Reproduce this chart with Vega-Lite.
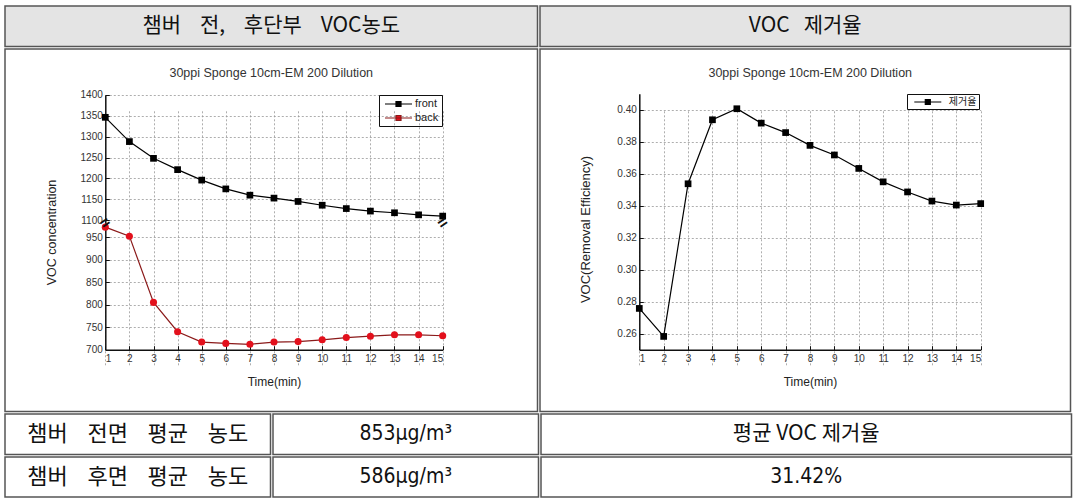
{
  "$schema": "https://vega.github.io/schema/vega-lite/v6.json",
  "padding": {"left": 4, "top": 5, "right": 0, "bottom": 0},
  "background": "white",
  "datasets": {
    "voc": [
      {"t": 1, "series": "front", "voc": 1346}, {"t": 2, "series": "front", "voc": 1288}, {"t": 3, "series": "front", "voc": 1248},
      {"t": 4, "series": "front", "voc": 1221}, {"t": 5, "series": "front", "voc": 1196}, {"t": 6, "series": "front", "voc": 1175},
      {"t": 7, "series": "front", "voc": 1160}, {"t": 8, "series": "front", "voc": 1153}, {"t": 9, "series": "front", "voc": 1145},
      {"t": 10, "series": "front", "voc": 1136}, {"t": 11, "series": "front", "voc": 1128}, {"t": 12, "series": "front", "voc": 1122},
      {"t": 13, "series": "front", "voc": 1118}, {"t": 14, "series": "front", "voc": 1113}, {"t": 15, "series": "front", "voc": 1110},
      {"t": 1, "series": "back", "voc": 972}, {"t": 2, "series": "back", "voc": 952}, {"t": 3, "series": "back", "voc": 805},
      {"t": 4, "series": "back", "voc": 740}, {"t": 5, "series": "back", "voc": 717}, {"t": 6, "series": "back", "voc": 714},
      {"t": 7, "series": "back", "voc": 712}, {"t": 8, "series": "back", "voc": 717}, {"t": 9, "series": "back", "voc": 718},
      {"t": 10, "series": "back", "voc": 722}, {"t": 11, "series": "back", "voc": 727}, {"t": 12, "series": "back", "voc": 730},
      {"t": 13, "series": "back", "voc": 733}, {"t": 14, "series": "back", "voc": 733}, {"t": 15, "series": "back", "voc": 731}
    ],
    "eff": [
      {"t": 1, "series": "제거율", "eff": 0.2758}, {"t": 2, "series": "제거율", "eff": 0.2583}, {"t": 3, "series": "제거율", "eff": 0.3537},
      {"t": 4, "series": "제거율", "eff": 0.3937}, {"t": 5, "series": "제거율", "eff": 0.4006}, {"t": 6, "series": "제거율", "eff": 0.3916},
      {"t": 7, "series": "제거율", "eff": 0.3857}, {"t": 8, "series": "제거율", "eff": 0.3777}, {"t": 9, "series": "제거율", "eff": 0.3717},
      {"t": 10, "series": "제거율", "eff": 0.3633}, {"t": 11, "series": "제거율", "eff": 0.3549}, {"t": 12, "series": "제거율", "eff": 0.3486},
      {"t": 13, "series": "제거율", "eff": 0.3429}, {"t": 14, "series": "제거율", "eff": 0.3404}, {"t": 15, "series": "제거율", "eff": 0.3413}
    ]
  },
  "config": {
    "view": {"stroke": "#555", "strokeWidth": 1.5},
    "concat": {"spacing": 0},
    "axis": {
      "labelFont": "Liberation Sans", "labelFontSize": 10, "labelColor": "#333",
      "titleFont": "Liberation Sans", "titleFontSize": 12, "titleFontWeight": "normal", "titleColor": "#222",
      "domainColor": "#111", "domainWidth": 1.5, "tickColor": "#111", "tickSize": -4, "tickWidth": 1,
      "gridColor": "#999", "gridDash": [2, 2], "gridWidth": 0.8
    },
    "title": {"font": "Liberation Sans", "fontSize": 12.5, "fontWeight": "normal", "color": "#333"}
  },
  "vconcat": [
    {
      "hconcat": [
        {
          "width": 532.5, "height": 40.5,
          "view": {"fill": "#e4e4e4", "stroke": "#555", "strokeWidth": 1.5},
          "data": {"values": [{"label": "챔버\u00a0\u00a0\u00a0\u00a0전,\u00a0\u00a0\u00a0\u00a0후단부\u00a0\u00a0\u00a0\u00a0VOC농도"}]},
          "mark": {"type": "text", "font": "Noto Sans CJK KR", "fontSize": 21, "color": "#111"},
          "encoding": {"text": {"field": "label"}}
        },
        {
          "width": 530.5, "height": 40.5,
          "view": {"fill": "#e4e4e4", "stroke": "#555", "strokeWidth": 1.5},
          "data": {"values": [{"label": "VOC\u00a0\u00a0\u00a0제거율"}]},
          "mark": {"type": "text", "font": "Noto Sans CJK KR", "fontSize": 21, "color": "#111"},
          "encoding": {"text": {"field": "label"}}
        }
      ]
    },
    {
      "resolve": {
        "scale": {"color": "independent", "shape": "independent", "fill": "independent", "stroke": "independent"},
        "legend": {"color": "independent", "shape": "independent", "fill": "independent", "stroke": "independent"}
      },
      "hconcat": [
        {
          "width": 532.5, "height": 362.5,
          "view": {"stroke": "#555", "strokeWidth": 1.5},
          "title": {"text": "30ppi Sponge 10cm-EM 200 Dilution", "offset": -30, "anchor": "middle", "frame": "group"},
          "data": {"name": "voc"},
          "encoding": {
            "x": {
              "field": "t", "type": "quantitative",
              "scale": {"domain": [1, 15], "range": [100.3, 437.7], "nice": false, "zero": false},
              "axis": {"orient": "bottom", "offset": -61.8, "values": [1,2,3,4,5,6,7,8,9,10,11,12,13,14,15], "format": "d", "title": "Time(min)", "labelPadding": 8, "titleY": 32, "titleBaseline": "middle", "grid": true}
            },
            "y": {
              "field": "voc", "type": "quantitative",
              "scale": {"domain": [700, 975, 1100, 1400], "range": [300.7, 176.8, 171.3, 45.7], "nice": false, "zero": false},
              "axis": {"orient": "left", "offset": -100.3, "values": [700,750,800,850,900,950,1100,1150,1200,1250,1300,1350,1400], "format": "d", "title": "VOC concentration", "titleFontSize": 12.5, "labelPadding": 7, "titleX": -54, "titleY": 183, "titleAngle": -90, "titleAlign": "center", "titleBaseline": "middle", "grid": true}
            }
          },
          "layer": [
            {
              "data": {"values": [{}]},
              "mark": {"type": "rect", "fillOpacity": 0, "stroke": "#222", "strokeWidth": 1},
              "encoding": {"x": {"datum": 1, "type": "quantitative"}, "x2": {"datum": 15}, "y": {"datum": 700, "type": "quantitative"}, "y2": {"datum": 1400}}
            },
            {
              "mark": {"type": "line", "strokeWidth": 1.2},
              "encoding": {
                "stroke": {
                  "field": "series", "type": "nominal",
                  "scale": {"domain": ["front", "back"], "range": ["#000000", "#8b1a1a"]},
                  "legend": {
                    "orient": "none", "legendX": 374, "legendY": 46, "title": null,
                    "strokeColor": "#111", "padding": 3, "rowPadding": 3,
                    "labelFont": "Liberation Sans", "labelFontSize": 11, "labelColor": "#222",
                    "symbolType": "M-2.7,0H2.7M-0.5,-0.5H0.5V0.5H-0.5Z", "symbolSize": 100, "symbolStrokeWidth": 1.2,
                    "symbolOffset": 10.5, "labelOffset": 10.5
                  }
                }
              }
            },
            {
              "transform": [{"filter": "datum.series === 'front'"}],
              "mark": {"type": "point", "filled": true, "opacity": 1, "size": 45, "shape": "square"},
              "encoding": {
                "fill": {
                  "field": "series", "type": "nominal",
                  "scale": {"domain": ["front", "back"], "range": ["#000000", "#e3101c"]},
                  "legend": {
                    "orient": "none", "legendX": 374, "legendY": 46, "title": null,
                    "strokeColor": "#111", "padding": 3, "rowPadding": 3,
                    "labelFont": "Liberation Sans", "labelFontSize": 11, "labelColor": "#222",
                    "symbolType": "M-2.7,0H2.7M-0.5,-0.5H0.5V0.5H-0.5Z", "symbolSize": 100, "symbolStrokeWidth": 1.2,
                    "symbolOffset": 10.5, "labelOffset": 10.5
                  }
                }
              }
            },
            {
              "transform": [{"filter": "datum.series === 'back'"}],
              "mark": {"type": "point", "filled": true, "opacity": 1, "size": 50, "shape": "circle"},
              "encoding": {
                "fill": {"field": "series", "type": "nominal"}
              }
            },
            {
              "transform": [{"filter": "datum.t === 1 && datum.series === 'front'"}],
              "mark": {"type": "text", "text": "=", "fontSize": 16, "fontWeight": "bold", "angle": 325, "color": "#111"},
              "encoding": {"x": {"datum": 1, "type": "quantitative"}, "y": {"datum": 1040, "type": "quantitative"}}
            },
            {
              "transform": [{"filter": "datum.t === 1 && datum.series === 'front'"}],
              "mark": {"type": "text", "text": "=", "fontSize": 16, "fontWeight": "bold", "angle": 325, "color": "#111"},
              "encoding": {"x": {"datum": 15, "type": "quantitative"}, "y": {"datum": 1040, "type": "quantitative"}}
            }
          ]
        },
        {
          "width": 530.5, "height": 362.5,
          "view": {"stroke": "#555", "strokeWidth": 1.5},
          "title": {"text": "30ppi Sponge 10cm-EM 200 Dilution", "offset": -30, "anchor": "middle", "frame": "group", "dx": 5},
          "data": {"name": "eff"},
          "encoding": {
            "x": {
              "field": "t", "type": "quantitative",
              "scale": {"domain": [1, 15], "range": [99.3, 440.7], "nice": false, "zero": false},
              "axis": {"orient": "bottom", "offset": -61.8, "values": [1,2,3,4,5,6,7,8,9,10,11,12,13,14,15], "format": "d", "title": "Time(min)", "labelPadding": 8, "titleY": 32, "titleBaseline": "middle", "grid": true}
            },
            "y": {
              "field": "eff", "type": "quantitative",
              "scale": {"domain": [0.25, 0.41], "range": [300.7, 44.7], "nice": false, "zero": false},
              "axis": {"orient": "left", "offset": -99.3, "values": [0.26,0.28,0.30,0.32,0.34,0.36,0.38,0.40], "format": ".2f", "title": "VOC(Removal Efficiency)", "titleFontSize": 13, "labelPadding": 7, "titleX": -54, "titleY": 180, "titleAngle": -90, "titleAlign": "center", "titleBaseline": "middle", "grid": true}
            }
          },
          "layer": [
            {
              "data": {"values": [{}]},
              "mark": {"type": "rect", "fillOpacity": 0, "stroke": "#222", "strokeWidth": 1},
              "encoding": {"x": {"datum": 1, "type": "quantitative"}, "x2": {"datum": 15}, "y": {"datum": 0.25, "type": "quantitative"}, "y2": {"datum": 0.41}}
            },
            {
              "mark": {"type": "line", "strokeWidth": 1.2},
              "encoding": {
                "stroke": {
                  "field": "series", "type": "nominal",
                  "scale": {"domain": ["제거율"], "range": ["#000000"]},
                  "legend": {
                    "orient": "none", "legendX": 367, "legendY": 45, "title": null,
                    "strokeColor": "#111", "padding": 2,
                    "labelFont": "Noto Sans CJK KR", "labelFontSize": 10, "labelColor": "#222",
                    "symbolType": "M-2.7,0H2.7M-0.5,-0.5H0.5V0.5H-0.5Z", "symbolSize": 100, "symbolStrokeWidth": 1.2,
                    "symbolOffset": 12.8, "labelOffset": 15
                  }
                }
              }
            },
            {
              "mark": {"type": "point", "filled": true, "opacity": 1, "size": 45, "shape": "square"},
              "encoding": {
                "fill": {
                  "field": "series", "type": "nominal",
                  "scale": {"domain": ["제거율"], "range": ["#000000"]},
                  "legend": {
                    "orient": "none", "legendX": 367, "legendY": 45, "title": null,
                    "strokeColor": "#111", "padding": 2,
                    "labelFont": "Noto Sans CJK KR", "labelFontSize": 10, "labelColor": "#222",
                    "symbolType": "M-2.7,0H2.7M-0.5,-0.5H0.5V0.5H-0.5Z", "symbolSize": 100, "symbolStrokeWidth": 1.2,
                    "symbolOffset": 12.8, "labelOffset": 15
                  }
                }
              }
            }
          ]
        }
      ]
    },
    {
      "hconcat": [
        {
          "width": 265.5, "height": 40.5,
          "view": {"stroke": "#555", "strokeWidth": 1.5},
          "data": {"values": [{"label": "챔버\u00a0\u00a0\u00a0\u00a0전면\u00a0\u00a0\u00a0\u00a0평균\u00a0\u00a0\u00a0\u00a0농도"}]},
          "mark": {"type": "text", "font": "Noto Sans CJK KR", "fontSize": 22, "color": "#111"},
          "encoding": {"text": {"field": "label"}}
        },
        {
          "width": 265.5, "height": 40.5,
          "view": {"stroke": "#555", "strokeWidth": 1.5},
          "data": {"values": [{"label": "853μg/m³"}]},
          "mark": {"type": "text", "font": "DejaVu Sans Condensed", "fontSize": 21, "color": "#111"},
          "encoding": {"text": {"field": "label"}}
        },
        {
          "width": 530.5, "height": 40.5,
          "view": {"stroke": "#555", "strokeWidth": 1.5},
          "data": {"values": [{"label": "평균 VOC 제거율"}]},
          "mark": {"type": "text", "font": "Noto Sans CJK KR", "fontSize": 21, "color": "#111"},
          "encoding": {"text": {"field": "label"}}
        }
      ]
    },
    {
      "hconcat": [
        {
          "width": 265.5, "height": 40,
          "view": {"stroke": "#555", "strokeWidth": 1.5},
          "data": {"values": [{"label": "챔버\u00a0\u00a0\u00a0\u00a0후면\u00a0\u00a0\u00a0\u00a0평균\u00a0\u00a0\u00a0\u00a0농도"}]},
          "mark": {"type": "text", "font": "Noto Sans CJK KR", "fontSize": 22, "color": "#111"},
          "encoding": {"text": {"field": "label"}}
        },
        {
          "width": 265.5, "height": 40,
          "view": {"stroke": "#555", "strokeWidth": 1.5},
          "data": {"values": [{"label": "586μg/m³"}]},
          "mark": {"type": "text", "font": "DejaVu Sans Condensed", "fontSize": 21, "color": "#111"},
          "encoding": {"text": {"field": "label"}}
        },
        {
          "width": 530.5, "height": 40,
          "view": {"stroke": "#555", "strokeWidth": 1.5},
          "data": {"values": [{"label": "31.42%"}]},
          "mark": {"type": "text", "font": "DejaVu Sans Condensed", "fontSize": 21, "color": "#111"},
          "encoding": {"text": {"field": "label"}}
        }
      ]
    }
  ]
}
